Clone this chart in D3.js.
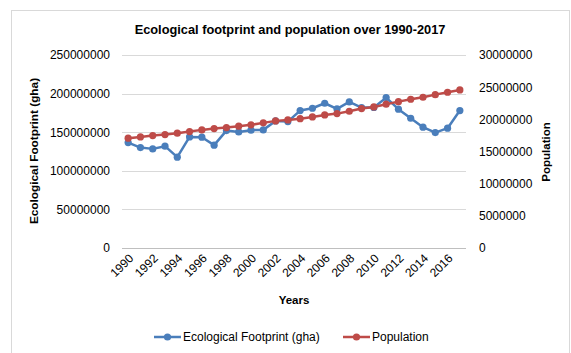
<!DOCTYPE html>
<html>
<head>
<meta charset="utf-8">
<script src="https://cdn.jsdelivr.net/npm/d3@7"></script>
<style>
	body { margin: 0; background: #fff; }
	text { font-family: "Liberation Sans", Arial, sans-serif; fill: #000; }
</style>
</head>
<body>
<div id="chart"></div>
<script>
// Data
var years = d3.range(1990, 2018);
var footprint = [136.6, 130.1, 128.4, 131.9, 117.7, 143.9, 143.5, 133.2, 152.1, 150.4,
	152.6, 153.0, 164.6, 163.7, 178.0, 181.0, 187.5, 180.2, 189.2, 181.9,
	182.0, 194.8, 179.8, 168.1, 156.5, 149.5, 155.2, 178.0].map(function(v) { return v * 1e6; });
var population = [17.07, 17.27, 17.48, 17.63, 17.85, 18.10, 18.36, 18.56, 18.72, 18.93,
	19.14, 19.45, 19.76, 19.91, 20.10, 20.38, 20.69, 20.89, 21.26, 21.67,
	21.93, 22.35, 22.75, 23.12, 23.43, 23.84, 24.21, 24.57].map(function(v) { return v * 1e6; });
var leftTicks = [0, 50000000, 100000000, 150000000, 200000000, 250000000];
var rightTicks = [0, 5000000, 10000000, 15000000, 20000000, 25000000, 30000000];
var labelYears = d3.range(1990, 2017, 2);

var width = 571, height = 353;
var plot = { left: 122, right: 466, top: 55, bottom: 248 };
var blue = "#4a7ebb", red = "#be4b48";

var svg = d3.select("#chart").append("svg")
	.attr("width", width)
	.attr("height", height);

// chart frame
svg.append("rect")
	.attr("x", 11.5).attr("y", 10.5)
	.attr("width", 558).attr("height", 360)
	.attr("fill", "none")
	.attr("stroke", "#d9d9d9");

var x = d3.scaleBand().domain(years).range([plot.left, plot.right]);
var yL = d3.scaleLinear().domain([0, 250000000]).range([plot.bottom, plot.top]);
var yR = d3.scaleLinear().domain([0, 30000000]).range([plot.bottom, plot.top]);
var cx = function(yr) { return x(yr) + x.bandwidth() / 2; };

// gridlines
svg.append("g").selectAll("line")
	.data(leftTicks)
	.enter().append("line")
	.attr("x1", plot.left).attr("x2", plot.right)
	.attr("y1", function(d) { return Math.round(yL(d)) + 0.5; })
	.attr("y2", function(d) { return Math.round(yL(d)) + 0.5; })
	.attr("stroke", function(d) { return d === 0 ? "#bfbfbf" : "#d9d9d9"; })
	.attr("stroke-width", 1);

// left axis labels
var leftAxis = d3.axisLeft(yL).tickValues(leftTicks).tickSize(0).tickPadding(0).tickFormat(d3.format("d"));
svg.append("g")
	.attr("transform", "translate(110,0)")
	.call(leftAxis)
	.call(function(g) { g.select(".domain").remove(); })
	.selectAll("text").style("font-size", "12px").attr("font-family", null).attr("fill", "#000");

// right axis labels
var rightAxis = d3.axisRight(yR).tickValues(rightTicks).tickSize(0).tickPadding(0).tickFormat(d3.format("d"));
svg.append("g")
	.attr("transform", "translate(479,0)")
	.call(rightAxis)
	.call(function(g) { g.select(".domain").remove(); })
	.selectAll("text").style("font-size", "12px").attr("font-family", null).attr("fill", "#000");

// x labels, rotated
svg.append("g").selectAll("text")
	.data(labelYears)
	.enter().append("text")
	.attr("transform", function(d) { return "translate(" + (cx(d) + 3) + "," + (plot.bottom + 8) + ") rotate(-45)"; })
	.attr("text-anchor", "end")
	.attr("dy", "0.35em")
	.style("font-size", "12px")
	.text(function(d) { return d; });

// titles
svg.append("text")
	.attr("x", 290).attr("y", 34)
	.attr("text-anchor", "middle")
	.style("font-size", "12.8px").style("font-weight", "bold")
	.text("Ecological footprint and population over 1990-2017");

svg.append("text")
	.attr("transform", "translate(38,151) rotate(-90)")
	.attr("text-anchor", "middle")
	.style("font-size", "11.8px").style("font-weight", "bold")
	.text("Ecological Footprint (gha)");

svg.append("text")
	.attr("transform", "translate(550,152) rotate(-90)")
	.attr("text-anchor", "middle")
	.style("font-size", "11.5px").style("font-weight", "bold")
	.text("Population");

svg.append("text")
	.attr("x", 294).attr("y", 304)
	.attr("text-anchor", "middle")
	.style("font-size", "11.5px").style("font-weight", "bold")
	.text("Years");

// series
function drawSeries(values, scale, color) {
	var pts = years.map(function(yr, i) { return [cx(yr), scale(values[i])]; });
	svg.append("path")
		.attr("d", d3.line()(pts))
		.attr("fill", "none")
		.attr("stroke", color)
		.attr("stroke-width", 2.5)
		.attr("stroke-linejoin", "round");
	svg.append("g").selectAll("circle")
		.data(pts)
		.enter().append("circle")
		.attr("cx", function(d) { return d[0]; })
		.attr("cy", function(d) { return d[1]; })
		.attr("r", 3.6)
		.attr("fill", color);
}
drawSeries(footprint, yL, blue);
drawSeries(population, yR, red);

// legend
var legend = [
	{ name: "Ecological Footprint (gha)", color: blue, x: 154 },
	{ name: "Population", color: red, x: 343 }
];
var lg = svg.append("g").selectAll("g")
	.data(legend)
	.enter().append("g")
	.attr("transform", function(d) { return "translate(" + d.x + ",337)"; });
lg.append("line")
	.attr("x1", 0).attr("x2", 27)
	.attr("stroke", function(d) { return d.color; })
	.attr("stroke-width", 2.5);
lg.append("circle")
	.attr("cx", 13.5).attr("r", 3.6)
	.attr("fill", function(d) { return d.color; });
lg.append("text")
	.attr("x", 29).attr("dy", "0.35em")
	.style("font-size", "12px")
	.text(function(d) { return d.name; });
</script>
</body>
</html>
